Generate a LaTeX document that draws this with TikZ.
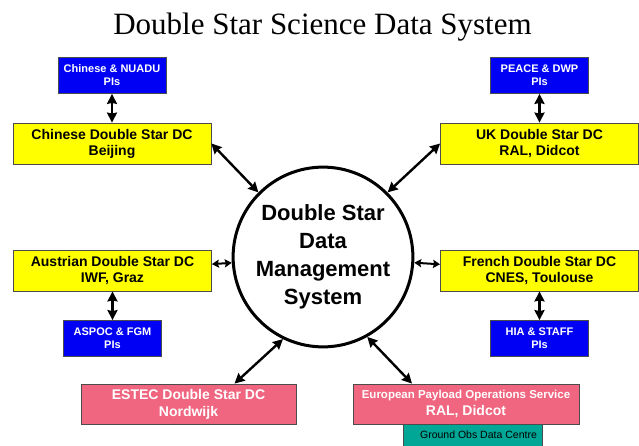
\documentclass[tikz,border=0pt]{standalone}
\usepackage{fontspec}
\setmainfont{Liberation Sans}
\newfontfamily\titlefont{Liberation Serif}
\usetikzlibrary{arrows.meta}

\definecolor{piblue}{RGB}{0,0,245}
\definecolor{dcyellow}{RGB}{255,255,0}
\definecolor{esapink}{RGB}{240,102,128}
\definecolor{obsteal}{RGB}{0,166,150}

\begin{document}
\begin{tikzpicture}[x=1pt,y=1pt,node distance=68pt,
  box node/.style={rectangle,draw=black!70,line width=0.8pt,align=center},
  dc node/.style={box node,fill=dcyellow,minimum width=198pt,minimum height=41pt,
    font=\fontsize{14}{16}\selectfont\bfseries},
  pi node/.style={box node,fill=piblue,text=white,minimum width=98pt,minimum height=36pt,
    font=\fontsize{11}{13}\selectfont\bfseries},
  esa node/.style={box node,fill=esapink,text=white,minimum height=40pt,
    font=\fontsize{14}{17}\selectfont\bfseries},
  link/.style={<->,>={Stealth[length=10pt,width=10pt,inset=1pt]},line width=2.4pt},
  short link/.style={link,>={Stealth[length=7pt,width=8pt,inset=1pt]},line width=2pt}]

  \useasboundingbox (0,0) rectangle (639,445);

  \node[anchor=base] (title) at (322.5,410)
    {\titlefont\fontsize{31}{36}\selectfont Double Star Science Data System};

  \node[circle,draw,line width=3pt,minimum size=174pt,align=center,
    font=\fontsize{22}{28}\selectfont\bfseries] (dms) at (323,188)
    {Double Star\\Data\\Management\\System};

  \node[dc node] (cdc) at (112,301.5) {Chinese Double Star DC\\Beijing};
  \node[dc node] (udc) at (539.5,301.5) {UK Double Star DC\\RAL, Didcot};
  \node[dc node] (adc) at (112.5,174.5) {Austrian Double Star DC\\IWF, Graz};
  \node[dc node] (fdc) at (539.5,174.5) {French Double Star DC\\CNES, Toulouse};

  \node[pi node,minimum width=108pt] (cpi) [above of=cdc] {Chinese \& NUADU\\PIs};
  \node[pi node] (upi) [above of=udc] {PEACE \& DWP\\PIs};
  \node[pi node] (api) [below of=adc] {ASPOC \& FGM\\PIs};
  \node[pi node] (hpi) [below of=fdc] {HIA \& STAFF\\PIs};

  \node[box node,fill=obsteal,minimum width=139pt,minimum height=22pt,
    font=\fontsize{10.5}{12}\selectfont] (gobs) at (472.5,10) {\hspace{12pt}Ground Obs Data Centre};
  \node[esa node,minimum width=215pt] (edc) at (188.5,41) {ESTEC Double Star DC\\Nordwijk};
  \node[esa node,minimum width=226pt] (epos) at (466,41)
    {{\fontsize{11.5}{16}\selectfont European Payload Operations Service}\\RAL, Didcot};

  \path[link]
    (cpi) edge (cdc)
    (upi) edge (udc)
    (adc) edge (api)
    (fdc) edge (hpi)
    (cdc.east) edge (dms.135)
    (udc.west) edge (dms.45)
    (dms.244) edge ([xshift=46pt]edc.north)
    (dms.299) edge ([xshift=-54pt]epos.north);
  \path[short link]
    (adc) edge (dms)
    (dms) edge (fdc);
\end{tikzpicture}
\end{document}
